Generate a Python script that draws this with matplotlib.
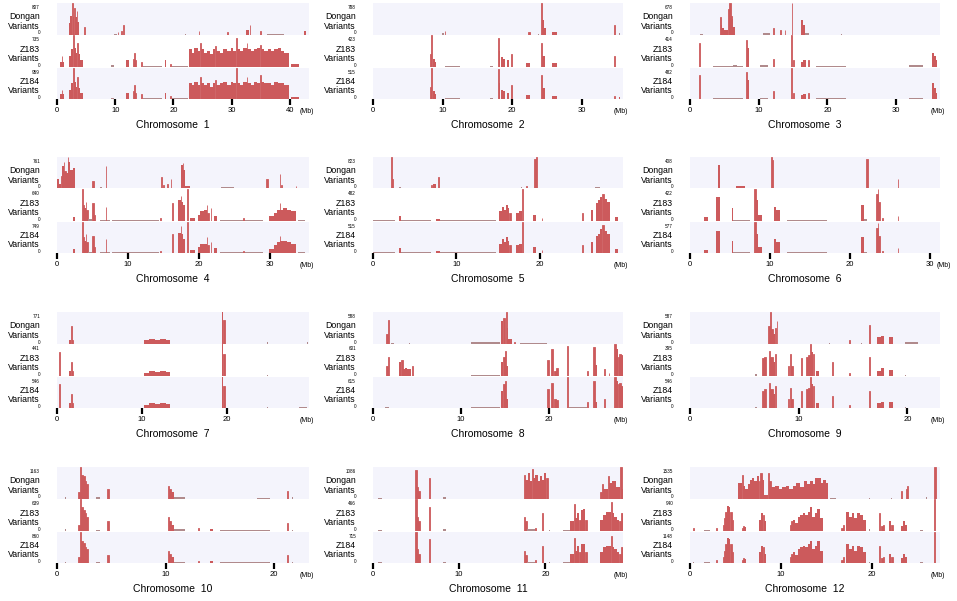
import matplotlib
matplotlib.use("Agg")
import matplotlib.pyplot as plt

plt.rcParams['font.family'] = ['Liberation Sans', 'DejaVu Sans']

# chromosome lengths (Mb) and max count of each track
chrom_len = [43.27, 35.94, 36.41, 35.50, 29.96, 31.25, 29.70, 28.44, 23.01, 23.21, 29.02, 27.53]
dongan_max = [807, 788, 678, 761, 823, 408, 771, 588, 587, 1163, 1086, 1535]
z183_max = [735, 423, 414, 640, 482, 422, 441, 601, 395, 639, 466, 940]
z184_max = [959, 515, 482, 749, 515, 577, 546, 615, 546, 860, 715, 1148]

# variant density: (start Mb, end Mb, height relative to track max)
c1_dongan = [(2.0, 2.3, .35), (2.3, 2.6, .6), (2.6, 2.7, 1.0), (2.7, 3.0, .55), (3.0, 3.1, .85),
             (3.1, 3.4, .55), (3.4, 3.5, .75), (3.5, 3.7, .4), (4.7, 4.8, .25), (9.8, 10.3, .03),
             (10.4, 10.5, .08), (11.0, 11.1, .1), (11.4, 11.5, .3), (22.0, 22.1, .03), (24.3, 24.4, .12),
             (29.2, 29.3, .07), (32.4, 33.0, .15), (33.1, 33.2, .3), (34.9, 35.0, .1), (36.1, 39.0, .03),
             (42.4, 42.7, .12)]
c1_z183 = [(0.6, 0.8, .15), (0.8, 0.9, .35), (0.9, 1.2, .15), (2.0, 2.4, .35), (2.4, 2.8, .55),
           (2.8, 2.9, 1.0), (2.9, 3.3, .6), (3.3, 3.5, .45), (3.5, 3.6, .75), (3.6, 3.9, .4),
           (4.0, 4.4, .2), (9.2, 9.8, .05), (11.8, 12.3, .2), (13.0, 13.2, .25), (13.3, 13.4, .45),
           (13.4, 13.6, .2), (14.5, 14.6, .15), (14.8, 18.0, .03), (18.5, 18.8, .2), (19.4, 19.5, .1),
           (19.8, 22.5, .02), (22.7, 23.2, .55), (23.2, 23.6, .45), (23.6, 24.2, .6), (24.2, 24.6, .5),
           (24.6, 24.7, .75), (24.7, 25.2, .55), (25.2, 25.7, .45), (25.7, 26.3, .5), (26.3, 26.8, .4),
           (26.8, 27.2, .55), (27.2, 27.3, .65), (27.3, 28.0, .5), (28.0, 28.5, .45), (28.5, 29.2, .55),
           (29.2, 29.8, .5), (29.8, 30.3, .6), (30.3, 30.8, .5), (30.8, 30.9, .9), (30.9, 31.5, .55),
           (31.5, 32.0, .5), (32.0, 32.6, .6), (32.6, 32.7, .75), (32.7, 33.3, .55), (33.3, 33.8, .5),
           (33.8, 34.4, .55), (34.4, 34.9, .6), (34.9, 35.0, .7), (35.0, 35.6, .55), (35.6, 36.2, .5),
           (36.2, 36.8, .55), (36.8, 37.3, .5), (37.3, 37.9, .55), (37.9, 38.5, .6), (38.5, 39.0, .5),
           (39.0, 39.9, .45), (40.2, 41.6, .08)]
c1_z184 = [(0.6, 0.8, .15), (0.8, 0.9, .3), (0.9, 1.2, .15), (2.0, 2.4, .3), (2.4, 2.8, .5),
           (2.8, 2.9, 1.0), (2.9, 3.3, .55), (3.3, 3.5, .4), (3.5, 3.6, .7), (3.6, 3.9, .35),
           (4.0, 4.4, .2), (9.2, 9.8, .05), (11.8, 12.3, .2), (13.0, 13.2, .25), (13.3, 13.4, .45),
           (13.4, 13.6, .2), (14.5, 14.6, .15), (14.8, 18.0, .03), (18.5, 18.8, .2), (19.4, 19.5, .1),
           (19.8, 22.5, .02), (22.7, 23.2, .5), (23.2, 23.6, .45), (23.6, 24.2, .55), (24.2, 24.6, .45),
           (24.6, 24.7, .7), (24.7, 25.2, .5), (25.2, 25.7, .45), (25.7, 26.3, .5), (26.3, 26.8, .4),
           (26.8, 27.2, .5), (27.2, 27.3, .6), (27.3, 28.0, .45), (28.0, 28.5, .5), (28.5, 29.2, .55),
           (29.2, 29.8, .45), (29.8, 30.3, .55), (30.3, 30.8, .5), (30.8, 30.9, 1.0), (30.9, 31.5, .5),
           (31.5, 32.0, .45), (32.0, 32.6, .55), (32.6, 32.7, .7), (32.7, 33.3, .5), (33.3, 33.8, .45),
           (33.8, 34.4, .55), (34.4, 34.9, .5), (34.9, 35.0, .75), (35.0, 35.6, .55), (35.6, 36.2, .5),
           (36.2, 36.8, .5), (36.8, 37.3, .45), (37.3, 37.9, .55), (37.9, 38.5, .5), (38.5, 39.0, .5),
           (39.0, 39.9, .45), (40.2, 41.6, .08)]

c2_dongan = [(9.9, 10.2, .05), (10.3, 10.4, .1), (22.3, 22.5, .07), (23.7, 23.8, .03), (24.2, 24.35, 1.0),
             (24.35, 24.6, .45), (24.6, 24.9, .2), (25.8, 26.4, .08), (34.6, 34.8, .3), (35.4, 35.5, .05)]
c2_z183 = [(8.2, 8.3, .4), (8.3, 8.42, 1.0), (8.6, 8.85, .25), (8.85, 9.1, .15), (10.3, 12.5, .03),
           (16.8, 17.3, .03), (17.9, 18.05, .9), (18.05, 18.3, .5), (18.4, 18.7, .3), (18.7, 19.0, .25),
           (19.2, 19.6, .2), (19.8, 20.0, .4), (22.0, 22.6, .12), (24.2, 24.35, .75), (24.35, 24.7, .35),
           (25.8, 26.4, .12), (34.6, 34.8, .35)]
c2_z184 = [(8.2, 8.3, .4), (8.3, 8.42, 1.0), (8.6, 8.85, .25), (8.85, 9.1, .15), (10.3, 12.5, .03),
           (16.8, 17.3, .03), (17.9, 18.05, .95), (18.05, 18.3, .5), (18.4, 18.7, .3), (18.7, 19.0, .25),
           (19.2, 19.6, .2), (19.8, 20.0, .45), (22.0, 22.6, .12), (24.2, 24.35, .75), (24.35, 24.7, .35),
           (25.8, 26.4, .1), (34.6, 34.8, .1), (35.3, 35.5, .08)]

c3_dongan = [(1.5, 1.9, .03), (4.3, 4.45, .55), (4.45, 4.7, .3), (4.7, 4.9, .2), (4.9, 5.6, .15),
             (5.6, 5.75, .8), (5.75, 5.9, 1.0), (5.9, 6.1, .6), (6.1, 6.3, .5), (6.3, 6.5, .25),
             (10.6, 11.6, .05), (12.1, 12.2, .2), (13.1, 13.2, .15), (13.8, 13.9, .15), (14.8, 14.92, 1.0),
             (16.2, 16.45, .45), (16.45, 16.7, .3), (16.7, 17.4, .05), (22.0, 22.1, .03), (32.7, 32.8, .03)]
c3_z183 = [(1.25, 1.4, .75), (3.4, 7.7, .03), (6.3, 6.8, .05), (8.2, 8.35, .85), (8.35, 8.6, .6),
           (10.2, 11.4, .05), (12.1, 12.25, .25), (14.75, 14.9, 1.0), (15.0, 15.1, .2), (16.2, 16.5, .15),
           (16.5, 16.9, .2), (17.2, 17.3, .2), (18.4, 22.7, .04), (31.9, 33.9, .05), (35.3, 35.5, .45),
           (35.5, 35.8, .35), (35.8, 36.0, .2)]
c3_z184 = [(1.25, 1.4, .75), (3.4, 7.7, .03), (6.3, 6.8, .05), (8.2, 8.35, .85), (8.35, 8.6, .6),
           (10.2, 11.4, .05), (12.1, 12.25, .25), (14.75, 14.9, 1.0), (15.0, 15.1, .2), (16.2, 16.5, .12),
           (16.5, 16.9, .15), (17.2, 17.3, .2), (18.4, 22.7, .04), (31.9, 33.9, .05), (35.3, 35.5, .5),
           (35.5, 35.8, .35), (35.8, 36.0, .2)]

c4_dongan = [(0.0, 0.25, .3), (0.25, 0.5, .15), (0.5, 0.7, .4), (0.7, 0.95, .7), (0.95, 1.05, .85),
             (1.05, 1.2, .55), (1.2, 1.5, .5), (1.5, 1.62, 1.0), (1.62, 1.9, .85), (1.9, 2.2, .6),
             (2.2, 2.6, .65), (5.0, 5.15, .25), (6.0, 6.4, .05), (6.85, 6.95, .7), (10.5, 14.0, .02),
             (14.7, 14.85, .35), (15.0, 15.1, .1), (15.5, 15.6, .15), (16.0, 16.1, .3), (17.4, 17.7, .75),
             (17.7, 17.8, .8), (17.8, 18.1, .6), (18.1, 18.8, .08), (20.0, 25.0, .03), (23.1, 25.0, .05),
             (29.5, 29.7, .3), (31.35, 31.45, .45), (31.5, 31.7, .1), (32.5, 35.0, .03), (33.6, 33.7, .08)]
c4_z183 = [(2.2, 2.5, .12), (3.5, 3.62, 1.0), (3.62, 3.8, .5), (3.8, 4.05, .4), (4.05, 4.15, .6),
           (4.15, 4.3, .35), (4.3, 5.0, .05), (5.0, 5.15, .55), (5.15, 5.3, .2), (6.0, 7.4, .03),
           (6.85, 6.95, .45), (7.8, 14.4, .02), (14.5, 14.6, .08), (16.2, 16.4, .55), (17.1, 17.4, .65),
           (17.4, 17.5, .8), (17.5, 17.8, .6), (17.8, 18.1, .5), (18.35, 18.45, 1.0), (18.8, 19.5, .1),
           (19.8, 20.2, .2), (20.2, 20.7, .3), (20.7, 21.1, .35), (21.1, 21.2, .5), (21.2, 21.4, .25),
           (21.65, 21.75, .4), (22.1, 22.6, .15), (23.0, 29.0, .03), (26.2, 26.3, .08), (29.8, 30.5, .15),
           (30.5, 31.0, .25), (31.0, 31.35, .35), (31.35, 31.45, .55), (31.45, 31.9, .35), (31.9, 32.4, .4),
           (32.4, 33.0, .35), (33.0, 33.6, .3), (34.0, 35.0, .03)]
c4_z184 = [(2.2, 2.5, .12), (3.5, 3.62, 1.0), (3.62, 3.8, .5), (3.8, 4.05, .4), (4.05, 4.15, .6),
           (4.15, 4.3, .35), (4.3, 5.0, .05), (5.0, 5.15, .55), (5.15, 5.3, .2), (6.0, 7.4, .03),
           (6.85, 6.95, .45), (7.8, 14.4, .02), (14.5, 14.6, .08), (16.2, 16.4, .6), (17.1, 17.4, .65),
           (17.4, 17.5, .85), (17.5, 17.8, .6), (17.8, 18.1, .45), (18.35, 18.45, 1.0), (18.8, 19.5, .1),
           (19.8, 20.2, .2), (20.2, 20.7, .3), (20.7, 21.1, .3), (21.1, 21.2, .5), (21.2, 21.4, .25),
           (21.65, 21.75, .35), (22.1, 22.6, .15), (23.0, 29.0, .03), (26.2, 26.3, .08), (29.8, 30.5, .12),
           (30.5, 31.0, .25), (31.0, 31.35, .35), (31.35, 31.45, .55), (31.45, 31.9, .4), (31.9, 32.4, .4),
           (32.4, 33.0, .35), (33.0, 33.6, .3), (34.0, 35.0, .03)]

c5_dongan = [(2.1, 2.25, 1.0), (2.25, 2.4, .3), (3.1, 3.3, .05), (7.0, 7.1, .1), (7.2, 7.5, .15),
             (7.75, 7.85, .35), (8.5, 14.0, .02), (17.7, 17.8, .05), (18.3, 18.4, .08), (19.3, 19.5, .95),
             (19.5, 19.7, 1.0), (26.6, 27.2, .05)]
c5_z183 = [(0.0, 2.6, .02), (3.1, 3.4, .15), (3.4, 7.0, .02), (7.6, 8.0, .06), (8.0, 14.8, .02),
           (15.1, 15.4, .3), (15.4, 15.7, .45), (15.7, 15.9, .35), (15.9, 16.15, .5), (16.15, 16.35, .4),
           (16.35, 16.5, .25), (17.1, 17.5, .25), (17.5, 17.8, .3), (17.8, 17.92, 1.0), (19.2, 19.5, .2),
           (20.2, 20.3, .1), (25.0, 25.2, .25), (26.1, 26.4, .35), (26.7, 26.95, .55), (26.95, 27.2, .65),
           (27.2, 27.5, .75), (27.5, 27.65, .85), (27.65, 28.0, .7), (28.0, 28.4, .6), (29.0, 29.4, .12)]
c5_z184 = [(0.0, 2.6, .02), (3.1, 3.4, .15), (3.4, 7.0, .02), (7.6, 8.0, .06), (8.0, 14.8, .02),
           (15.1, 15.4, .3), (15.4, 15.7, .45), (15.7, 15.9, .35), (15.9, 16.15, .5), (16.15, 16.35, .4),
           (16.35, 16.5, .25), (17.1, 17.5, .25), (17.5, 17.8, .3), (17.8, 17.92, 1.0), (19.2, 19.5, .2),
           (20.2, 20.3, .1), (25.0, 25.2, .25), (26.1, 26.4, .35), (26.7, 26.95, .55), (26.95, 27.2, .6),
           (27.2, 27.5, .75), (27.5, 27.65, .9), (27.65, 28.0, .7), (28.0, 28.4, .6), (29.0, 29.4, .12)]

c6_dongan = [(0.2, 0.8, .03), (3.5, 3.75, .75), (5.8, 6.9, .07), (10.1, 10.25, 1.0), (10.25, 10.4, .9),
             (22.05, 22.2, .95), (23.7, 23.8, .03), (25.95, 26.05, .3)]
c6_z183 = [(1.7, 2.3, .12), (3.3, 3.7, .75), (5.2, 5.4, .4), (5.4, 7.5, .03), (8.0, 8.2, 1.0),
           (8.2, 8.5, .65), (8.5, 9.0, .2), (10.5, 10.8, .45), (10.8, 11.2, .35), (12.1, 17.1, .03),
           (21.4, 21.7, .5), (21.7, 22.1, .05), (23.3, 23.45, .85), (23.45, 23.55, 1.0), (23.55, 23.7, .6),
           (24.0, 24.1, .08), (25.95, 26.05, .15)]
c6_z184 = [(1.7, 2.3, .1), (3.3, 3.7, .7), (5.2, 5.4, .4), (5.4, 7.5, .03), (8.0, 8.2, 1.0),
           (8.2, 8.5, .6), (8.5, 9.0, .2), (10.5, 10.8, .45), (10.8, 11.2, .35), (12.1, 17.1, .03),
           (21.4, 21.7, .5), (21.7, 22.1, .05), (23.3, 23.45, .8), (23.45, 23.55, .95), (23.55, 23.7, .55),
           (24.0, 24.1, .08), (25.95, 26.05, .15)]

c7_dongan = [(1.4, 1.65, .1), (1.65, 1.75, .55), (1.75, 1.9, .1), (10.3, 10.9, .1), (10.9, 11.6, .15),
             (11.6, 12.1, .12), (12.1, 12.9, .15), (12.9, 13.3, .12), (19.4, 19.6, 1.0), (19.6, 19.8, .75),
             (24.8, 24.9, .04), (29.5, 29.6, .04)]
c7_z183 = [(0.2, 0.35, .75), (1.4, 1.65, .15), (1.65, 1.75, .45), (1.75, 1.9, .15), (10.3, 10.9, .1),
           (10.9, 11.6, .15), (11.6, 12.1, .12), (12.1, 12.9, .15), (12.9, 13.3, .12), (19.4, 19.6, 1.0),
           (19.6, 19.8, .7), (24.8, 24.9, .04)]
c7_z184 = [(0.2, 0.35, .75), (1.4, 1.65, .15), (1.65, 1.75, .45), (1.75, 1.9, .15), (10.3, 10.9, .1),
           (10.9, 11.6, .15), (11.6, 12.1, .12), (12.1, 12.9, .15), (12.9, 13.3, .12), (19.4, 19.6, 1.0),
           (19.6, 19.8, .7), (24.8, 24.9, .04), (28.5, 29.5, .02)]

c8_dongan = [(1.45, 1.65, .3), (1.65, 1.8, .75), (2.0, 2.4, .03), (4.1, 4.2, .03), (11.2, 14.5, .04),
             (14.6, 14.8, .7), (14.8, 15.0, .8), (15.1, 15.2, 1.0), (15.2, 15.4, .5), (15.4, 15.8, .15),
             (16.0, 16.2, .06), (16.75, 19.8, .02)]
c8_z183 = [(1.45, 1.65, .3), (1.65, 1.8, .6), (3.0, 3.2, .45), (3.2, 3.4, .5), (3.4, 3.6, .2),
           (3.6, 3.9, .25), (3.9, 4.3, .2), (4.45, 4.55, .3), (11.2, 14.5, .03), (14.6, 14.8, .45),
           (14.8, 15.0, .6), (15.0, 15.15, .8), (15.15, 15.4, .3), (19.8, 20.0, .5), (20.3, 20.45, .85),
           (20.6, 20.8, .15), (20.8, 21.0, .25), (22.05, 22.15, .95), (24.35, 24.45, .15), (25.0, 25.2, .9),
           (25.2, 25.5, .35), (26.25, 26.35, .2), (26.8, 26.9, .1), (27.45, 27.65, 1.0), (27.65, 27.85, .85),
           (27.85, 28.0, .6), (28.0, 28.2, .7), (28.2, 28.4, .65)]
c8_z184 = [(1.4, 1.8, .03), (11.2, 14.5, .03), (14.6, 14.8, .55), (14.8, 15.0, .75), (15.0, 15.15, .85),
           (15.15, 15.4, .3), (19.8, 20.0, .6), (20.3, 20.45, .8), (20.6, 20.8, .3), (20.8, 21.0, .25),
           (22.05, 22.15, 1.0), (22.3, 24.3, .02), (24.35, 24.45, .2), (25.0, 25.2, .85), (25.2, 25.5, .2),
           (26.25, 26.35, .3), (27.45, 27.65, 1.0), (27.65, 27.85, .85), (27.85, 28.0, .75), (28.0, 28.2, .8),
           (28.2, 28.4, .7)]

c9_dongan = [(7.2, 7.32, .55), (7.32, 7.42, 1.0), (7.42, 7.6, .45), (7.6, 7.8, .3), (7.8, 7.95, .5),
             (7.98, 8.05, .7), (12.8, 12.9, .03), (14.6, 14.7, .1), (15.7, 15.8, .03), (16.45, 16.55, .6),
             (17.25, 17.55, .2), (17.55, 17.85, .25), (18.3, 18.7, .2), (19.8, 21.0, .05)]
c9_z183 = [(5.95, 6.2, .05), (6.65, 6.8, .55), (6.8, 6.95, .6), (7.25, 7.4, .8), (7.4, 7.6, .6),
           (7.6, 7.85, .45), (7.85, 7.95, .7), (9.0, 9.15, .3), (9.2, 9.3, .7), (9.3, 9.45, .3),
           (10.2, 10.35, .55), (10.7, 10.85, .6), (10.85, 11.0, .65), (11.0, 11.1, 1.0), (11.1, 11.3, .75),
           (11.3, 11.45, .7), (11.6, 11.9, .15), (13.05, 13.15, .45), (14.6, 14.7, .1), (16.45, 16.55, .6),
           (17.25, 17.55, .15), (17.55, 17.85, .25), (18.3, 18.7, .18), (19.8, 19.9, .03)]
c9_z184 = [(5.95, 6.2, .05), (6.65, 6.8, .55), (6.8, 6.95, .6), (7.25, 7.4, .8), (7.4, 7.6, .6),
           (7.6, 7.85, .45), (7.85, 7.95, .7), (9.0, 9.15, .3), (9.2, 9.3, .65), (9.3, 9.45, .3),
           (10.2, 10.35, .55), (10.7, 10.85, .6), (10.85, 11.0, .65), (11.0, 11.1, 1.0), (11.1, 11.3, .75),
           (11.3, 11.45, .7), (11.6, 11.9, .15), (13.05, 13.15, .4), (14.6, 14.7, .1), (16.45, 16.55, .55),
           (17.25, 17.55, .15), (17.55, 17.85, .2), (18.3, 18.7, .18), (19.8, 19.9, .03)]

c10_dongan = [(0.75, 0.85, .05), (1.95, 2.15, .2), (2.15, 2.25, 1.0), (2.25, 2.4, .75), (2.4, 2.55, .7),
              (2.55, 2.7, .55), (2.7, 2.9, .45), (3.55, 4.0, .04), (4.65, 4.75, .3), (10.2, 10.35, .4),
              (10.35, 10.5, .3), (10.5, 10.8, .2), (10.8, 11.75, .05), (18.4, 19.6, .02), (21.15, 21.25, .25),
              (21.6, 21.7, .04)]
c10_z183 = [(0.75, 0.85, .05), (1.95, 2.15, .2), (2.15, 2.25, 1.0), (2.25, 2.4, .75), (2.4, 2.55, .65),
            (2.55, 2.7, .55), (2.7, 2.9, .45), (3.55, 4.0, .04), (4.65, 4.75, .3), (10.2, 10.35, .45),
            (10.35, 10.5, .3), (10.5, 10.8, .2), (10.8, 11.75, .05), (12.95, 13.05, .08), (14.1, 14.4, .06),
            (15.0, 19.6, .02), (21.15, 21.25, .25), (21.6, 21.7, .04)]
c10_z184 = [(0.75, 0.85, .05), (1.95, 2.15, .2), (2.15, 2.25, 1.0), (2.25, 2.4, .7), (2.4, 2.55, .65),
            (2.55, 2.7, .5), (2.7, 2.9, .45), (3.55, 4.0, .04), (4.65, 4.75, .25), (10.2, 10.35, .4),
            (10.35, 10.5, .3), (10.5, 10.8, .2), (10.8, 11.75, .05), (12.95, 13.05, .08), (14.1, 14.4, .06),
            (15.0, 19.6, .02), (21.15, 21.25, .25), (21.6, 21.7, .04)]

c11_dongan = [(0.6, 1.0, .03), (4.9, 5.1, .9), (5.1, 5.25, .35), (5.25, 5.4, .25), (6.5, 6.65, .65),
              (8.1, 8.5, .05), (17.5, 17.7, .75), (17.7, 17.95, .6), (17.95, 18.2, .8), (18.2, 18.45, .55),
              (18.45, 18.55, .95), (18.55, 18.8, .65), (18.8, 19.1, .75), (19.1, 19.35, .55), (19.35, 19.6, .7),
              (19.6, 19.85, .6), (19.85, 20.1, .8), (20.1, 20.3, .65), (26.35, 26.55, .2), (26.55, 26.75, .45),
              (26.75, 27.3, .3), (27.3, 27.45, .7), (27.45, 27.8, .5), (27.8, 28.2, .55), (28.2, 28.7, .35),
              (28.7, 28.85, 1.0), (28.85, 29.0, .3)]
c11_z183 = [(0.6, 1.0, .03), (4.9, 5.1, 1.0), (5.1, 5.25, .45), (5.25, 5.4, .3), (6.5, 6.65, .75),
            (8.1, 8.5, .05), (17.5, 17.7, .45), (17.7, 17.9, .3), (17.9, 18.8, .05), (18.85, 18.95, .1),
            (19.65, 19.75, .55), (20.4, 20.5, .03), (22.1, 22.9, .03), (22.9, 23.3, .3), (23.3, 23.45, .85),
            (23.45, 23.7, .4), (23.7, 23.95, .55), (23.95, 24.15, .35), (24.15, 24.35, .65), (24.35, 24.6, .7),
            (24.6, 24.8, .35), (26.35, 26.7, .35), (26.7, 27.0, .5), (27.0, 27.6, .6), (27.6, 27.75, .9),
            (27.75, 28.0, .55), (28.0, 28.3, .45), (28.3, 28.6, .35), (28.6, 28.8, .3), (28.8, 29.0, .55)]
c11_z184 = [(0.6, 1.0, .03), (4.9, 5.1, 1.0), (5.1, 5.25, .45), (5.25, 5.4, .3), (6.5, 6.65, .75),
            (8.1, 8.5, .05), (17.5, 17.7, .4), (17.7, 17.9, .25), (17.9, 18.8, .05), (18.85, 18.95, .1),
            (19.65, 19.75, .55), (20.4, 20.5, .03), (22.1, 22.9, .03), (22.9, 23.3, .3), (23.3, 23.45, .8),
            (23.45, 23.7, .4), (23.7, 23.95, .55), (23.95, 24.15, .35), (24.15, 24.35, .6), (24.35, 24.6, .6),
            (24.6, 24.8, .35), (26.35, 26.7, .35), (26.7, 27.0, .5), (27.0, 27.6, .55), (27.6, 27.75, .85),
            (27.75, 28.0, .5), (28.0, 28.3, .45), (28.3, 28.6, .35), (28.6, 28.8, .3), (28.8, 29.0, .5)]

c12_dongan = [(5.3, 5.7, .5), (5.7, 5.85, .75), (5.85, 6.1, .4), (6.1, 6.35, .3), (6.35, 6.6, .45),
              (6.6, 6.85, .6), (6.85, 7.1, .65), (7.1, 7.35, .55), (7.35, 7.6, .7), (7.6, 7.75, .55),
              (7.75, 7.9, .8), (7.9, 8.2, .6), (8.2, 8.6, .1), (8.6, 8.75, .8), (8.75, 8.95, .55),
              (8.95, 9.35, .35), (9.35, 9.75, .4), (9.75, 10.15, .3), (10.15, 10.55, .35), (10.55, 10.95, .4),
              (10.95, 11.3, .3), (11.3, 11.7, .4), (11.7, 12.1, .5), (12.1, 12.5, .35), (12.5, 12.85, .55),
              (12.85, 13.2, .45), (13.2, 13.5, .55), (13.5, 13.8, .45), (13.8, 14.1, .65), (14.1, 14.4, .65),
              (14.4, 14.7, .5), (14.7, 14.95, .6), (14.95, 15.2, .5), (15.4, 16.1, .02), (17.9, 18.0, .03),
              (19.7, 19.8, .03), (22.1, 22.2, .02), (23.2, 23.4, .25), (23.8, 23.95, .3), (23.95, 24.05, .4),
              (26.0, 26.1, .05), (26.9, 27.05, 1.0)]
c12_z183 = [(0.35, 0.45, .08), (1.5, 2.2, .02), (2.85, 2.95, .1), (3.6, 3.75, .2), (3.75, 3.85, .4),
            (3.85, 4.05, .6), (4.05, 4.25, .8), (4.25, 4.45, .75), (4.45, 4.6, .6), (4.6, 4.75, .35),
            (5.7, 5.85, .1), (5.85, 6.0, .15), (6.0, 6.2, .12), (7.6, 7.8, .35), (7.8, 8.0, .55),
            (8.0, 8.2, .5), (8.2, 8.4, .3), (11.0, 11.15, .2), (11.15, 11.35, .3), (11.35, 11.6, .35),
            (11.6, 11.9, .25), (11.9, 12.15, .45), (12.15, 12.45, .5), (12.45, 12.7, .55), (12.7, 12.95, .5),
            (12.95, 13.2, .6), (13.2, 13.45, .75), (13.45, 13.75, .45), (13.75, 14.0, .55), (14.0, 14.3, .7),
            (14.3, 14.6, .4), (16.6, 16.8, .1), (16.8, 17.0, .2), (17.2, 17.5, .6), (17.5, 17.8, .45),
            (17.8, 18.1, .55), (18.1, 18.4, .4), (18.4, 18.7, .55), (18.7, 19.05, .5), (19.05, 19.4, .35),
            (19.7, 19.8, .05), (20.8, 20.9, .55), (21.0, 21.2, .15), (21.2, 21.4, .2), (21.9, 22.1, .3),
            (22.1, 22.3, .2), (23.2, 23.45, .15), (23.45, 23.7, .3), (23.7, 23.95, .2), (25.3, 25.7, .03),
            (26.9, 27.0, 1.0)]
c12_z184 = [(0.35, 0.45, .05), (1.5, 2.2, .02), (2.85, 2.95, .1), (3.6, 3.75, .2), (3.75, 3.85, .4),
            (3.85, 4.05, .6), (4.05, 4.25, .8), (4.25, 4.45, .75), (4.45, 4.6, .6), (4.6, 4.75, .35),
            (5.7, 5.85, .1), (5.85, 6.0, .15), (6.0, 6.2, .12), (7.6, 7.8, .35), (7.8, 8.0, .55),
            (8.0, 8.2, .5), (8.2, 8.4, .3), (11.0, 11.15, .2), (11.15, 11.35, .3), (11.35, 11.6, .35),
            (11.6, 11.9, .25), (11.9, 12.15, .45), (12.15, 12.45, .5), (12.45, 12.7, .55), (12.7, 12.95, .5),
            (12.95, 13.2, .6), (13.2, 13.45, .7), (13.45, 13.75, .45), (13.75, 14.0, .55), (14.0, 14.3, .7),
            (14.3, 14.6, .4), (16.6, 16.8, .1), (16.8, 17.0, .2), (17.2, 17.5, .6), (17.5, 17.8, .45),
            (17.8, 18.1, .55), (18.1, 18.4, .4), (18.4, 18.7, .55), (18.7, 19.05, .5), (19.05, 19.4, .35),
            (19.7, 19.8, .05), (20.8, 20.9, .55), (21.0, 21.2, .15), (21.2, 21.4, .2), (21.9, 22.1, .3),
            (22.1, 22.3, .2), (23.2, 23.45, .15), (23.45, 23.7, .3), (23.7, 23.95, .2), (25.3, 25.7, .03),
            (26.9, 27.0, 1.0)]

dongan_tracks = [c1_dongan, c2_dongan, c3_dongan, c4_dongan, c5_dongan, c6_dongan,
                 c7_dongan, c8_dongan, c9_dongan, c10_dongan, c11_dongan, c12_dongan]
z183_tracks = [c1_z183, c2_z183, c3_z183, c4_z183, c5_z183, c6_z183,
               c7_z183, c8_z183, c9_z183, c10_z183, c11_z183, c12_z183]
z184_tracks = [c1_z184, c2_z184, c3_z184, c4_z184, c5_z184, c6_z184,
               c7_z184, c8_z184, c9_z184, c10_z184, c11_z184, c12_z184]
track_names = ["Dongan", "Z183", "Z184"]

W, H = 957, 601
BAR = '#CC5A5C'
LOW = '#B08A8C'      # very low bins look greyish in the original
LAVENDER = '#F4F4FC'

col_left = [57, 373, 690]
col_width = [252, 250, 250]
row_top = [3, 157, 312, 467]
track_h = 32.3

fig = plt.figure(figsize=(W / 100, H / 100), dpi=100)


def fx(px):
    return px / W


def fy(py):
    return 1 - py / H


for i in range(12):
    r, c = divmod(i, 3)
    left = col_left[c]
    width = col_width[c]
    L = chrom_len[i]
    tracks = [dongan_tracks[i], z183_tracks[i], z184_tracks[i]]
    maxes = [dongan_max[i], z183_max[i], z184_max[i]]
    for k in range(3):
        top = row_top[r] + k * track_h
        bottom = top + track_h - 0.8
        ax = fig.add_axes([fx(left), fy(bottom), fx(width), (bottom - top) / H])
        ax.set_facecolor(LAVENDER if k != 1 else 'white')
        data = tracks[k]
        starts = [d[0] for d in data]
        widths = [d[1] - d[0] for d in data]
        heights = [d[2] * maxes[k] for d in data]
        colors = [LOW if d[2] <= 0.05 else BAR for d in data]
        lws = [0.6 if (w < 0.2 and d[2] > 0.05) else 0 for w, d in zip(widths, data)]
        ax.bar(starts, heights, width=widths, align='edge', color=colors,
               edgecolor=colors, linewidth=lws)
        ax.set_xlim(0, L)
        ax.set_ylim(0, maxes[k])
        ax.set_yticks([])
        for s in ax.spines.values():
            s.set_visible(False)
        if k < 2:
            ax.set_xticks([])
        else:
            ax.set_xticks(range(0, int(L) + 1, 10))
            ax.tick_params(axis='x', length=4.5, width=1.6, direction='out',
                           labelsize=5.5, pad=1.5, color='black')
        # track labels
        lx = fx(left - 17)
        fig.text(lx, fy(top + 18.5), f"{track_names[k]}\nVariants", ha='right', va='center',
                 fontsize=6.3, linespacing=1.05)
        fig.text(lx, fy(top + 4.5), str(maxes[k]), ha='right', va='center', fontsize=3.3)
        fig.text(lx, fy(bottom - 1.5), "0", ha='right', va='center', fontsize=3.3)
    B = row_top[r] + 3 * track_h
    last_tick = left + width * (int(L) // 10 * 10) / L
    mb_x = max(left + width - 9, last_tick + 7)
    fig.text(fx(mb_x), fy(B + 12), "(Mb)", ha='left', va='center', fontsize=5)
    fig.text(fx(left + width / 2 - 10), fy(B + 25), f"Chromosome  {i + 1}",
             ha='center', va='center', fontsize=7.5)

fig.savefig("out.png", dpi=100)
